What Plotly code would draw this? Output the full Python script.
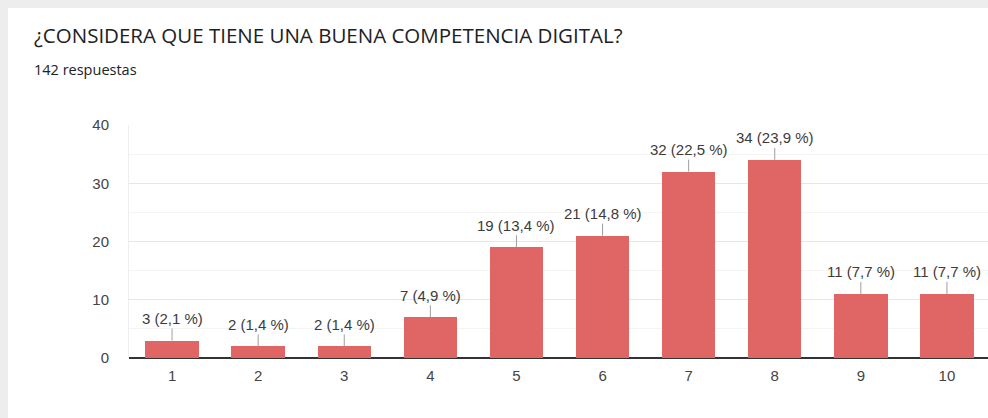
import plotly.graph_objects as go

categories = ["1", "2", "3", "4", "5", "6", "7", "8", "9", "10"]
counts = [3, 2, 2, 7, 19, 21, 32, 34, 11, 11]
percents = ["2,1", "1,4", "1,4", "4,9", "13,4", "14,8", "22,5", "23,9", "7,7", "7,7"]
y_ticks = [0, 10, 20, 30, 40]

title_text = "¿CONSIDERA QUE TIENE UNA BUENA COMPETENCIA DIGITAL?"
subtitle_text = "142 respuestas"

W, H = 988, 418
L, R, T, B = 129, 0, 125, 60
pw, ph = W - L - R, H - T - B

def px_x(p):
    return (p - L) / pw

def px_y(p):
    return (H - B - p) / ph

x_pos = list(range(1, len(categories) + 1))

fig = go.Figure()
fig.add_trace(go.Bar(
    x=x_pos, y=counts, width=0.62,
    marker=dict(color="#e06666", line=dict(width=0)),
    hoverinfo="skip",
))

annotations = []
for xi, c, p in zip(x_pos, counts, percents):
    annotations.append(dict(
        x=xi, y=c, xref="x", yref="y",
        text=f"{c} ({p} %)",
        showarrow=True, arrowhead=0, arrowwidth=1, arrowcolor="#9e9e9e",
        ax=0, ay=-22, standoff=0,
        font=dict(family="Liberation Sans, Arial", size=15, color="#3c3c3c"),
    ))

annotations.append(dict(
    x=px_x(32), y=px_y(35), xref="paper", yref="paper",
    xanchor="left", yanchor="middle", showarrow=False,
    text=title_text,
    font=dict(family="Open Sans", size=20.5, color="#202124"),
))
annotations.append(dict(
    x=px_x(32), y=px_y(69), xref="paper", yref="paper",
    xanchor="left", yanchor="middle", showarrow=False,
    text=subtitle_text,
    font=dict(family="Open Sans", size=14.5, color="#202124"),
))

shapes = [
    dict(type="rect", xref="paper", yref="paper", layer="below",
         x0=px_x(8), x1=px_x(1100), y0=px_y(500), y1=px_y(8),
         fillcolor="white", line=dict(width=0)),
]

fig.update_layout(
    width=W, height=H,
    margin=dict(l=L, r=R, t=T, b=B),
    paper_bgcolor="#ededed",
    plot_bgcolor="rgba(0,0,0,0)",
    showlegend=False,
    bargap=0,
    annotations=annotations,
    shapes=shapes,
    xaxis=dict(
        range=[0.5, 0.5 + pw / 86.1],
        tickmode="array", tickvals=x_pos, ticktext=categories,
        showgrid=False, zeroline=False, showline=False,
        ticks="", ticklabelstandoff=7,
        tickfont=dict(family="Liberation Sans, Arial", size=15, color="#444444"),
        fixedrange=True,
    ),
    yaxis=dict(
        range=[0, 40],
        tickmode="array", tickvals=y_ticks,
        showgrid=True, gridcolor="#e6e6e6", gridwidth=1,
        minor=dict(dtick=5, showgrid=True, gridcolor="#f4f4f4", gridwidth=1),
        zeroline=True, zerolinecolor="#333333", zerolinewidth=1.5,
        showline=True, linecolor="#eeeeee", linewidth=1,
        ticks="", ticklabelstandoff=16,
        tickfont=dict(family="Liberation Sans, Arial", size=15, color="#444444"),
        fixedrange=True,
    ),
)

fig.write_html(
    "out.html",
    config={"displayModeBar": False},
    post_script="document.body.style.margin='0';document.body.style.overflow='hidden';",
)
